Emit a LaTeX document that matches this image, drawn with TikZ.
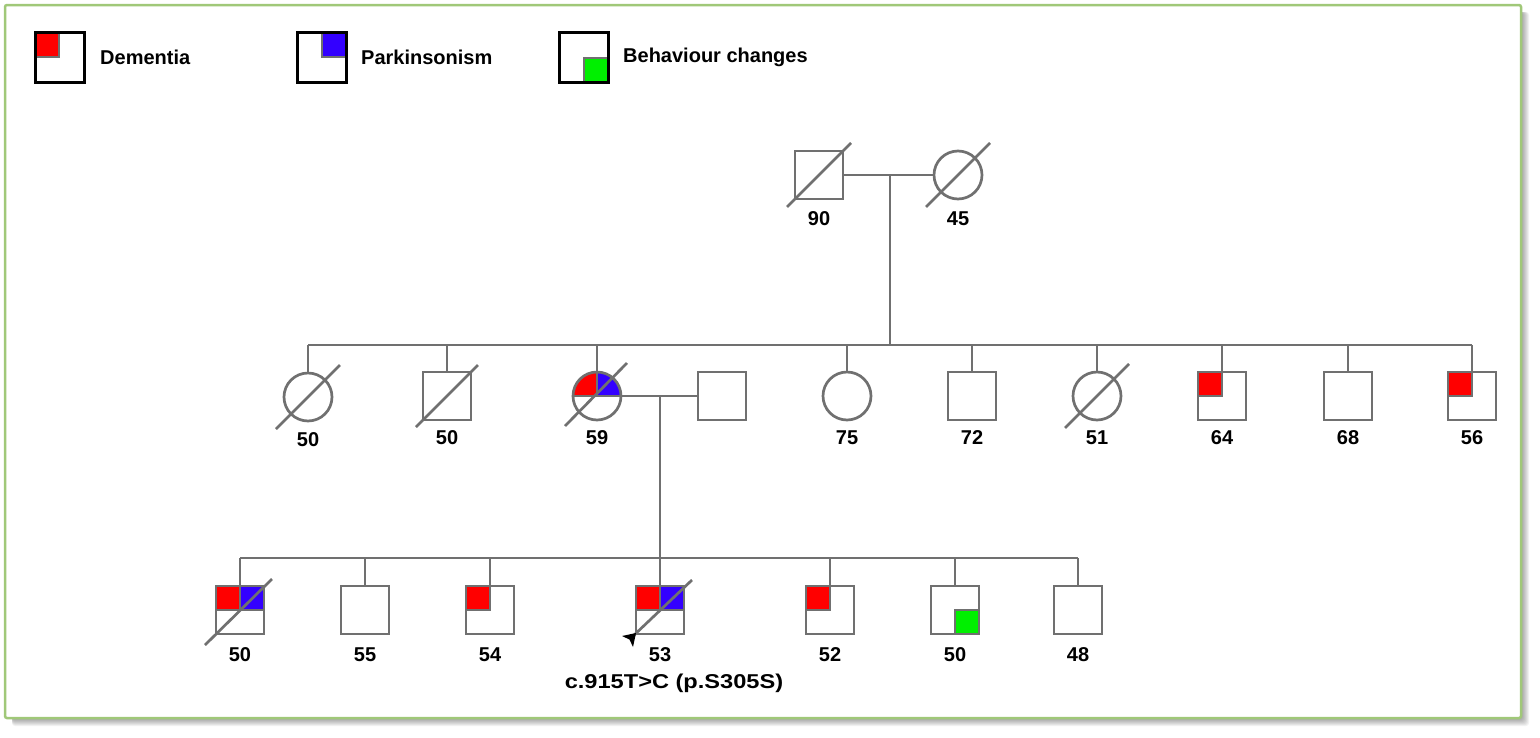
\documentclass[tikz,border=0pt]{standalone}
\usepackage{fontspec}
\setmainfont{Liberation Sans}
\definecolor{pgray}{RGB}{112,112,112}
\definecolor{pblue}{RGB}{51,0,255}
\definecolor{pgreen}{RGB}{0,240,0}
\definecolor{fgreen}{RGB}{160,200,120}
\newcommand\dslash[1]{\draw[dead] ([shift={(-32,32)}]#1.center) -- ([shift={(32,-32)}]#1.center);}
\begin{document}
\begin{tikzpicture}[x=1pt,y=-1pt,
  ln/.style={draw=pgray,line width=2.7pt},
  male/.style={ln,rectangle,minimum size=48pt,inner sep=0pt},
  female/.style={ln,circle,minimum size=48pt,inner sep=0pt},
  leg/.style={draw=black,line width=2.6pt,rectangle,minimum width=49pt,minimum height=50pt,inner sep=0pt},
  lab/.style={font=\bfseries\fontsize{20}{22}\selectfont,inner sep=0pt},
  qd/.style={draw=pgray,line width=1.5pt},
  dead/.style={draw=pgray,line width=2.7pt}]
\useasboundingbox (0,0) rectangle (1540,737);
\fill[white] (0,0) rectangle (1540,737);
% shadow and frame
\foreach \i in {1,...,7}{\fill[black,opacity=0.05,rounded corners=3pt] (12,12) rectangle (1522+\i,719+\i);}
\draw[fgreen,line width=2.5pt,fill=white,rounded corners=2pt] (5,5) rectangle (1521,718);

% legend
\path[fill=red,qd] (35,32) rectangle (59,57);
\path[fill=pblue,qd] (322,32) rectangle (347,57);
\path[fill=pgreen,qd] (584,58) rectangle (609,83);
\node[leg] (L1) at (60,57.5) {};
\node[leg] (L2) at (322,57.5) {};
\node[leg] (L3) at (584,57.5) {};
\node[lab,anchor=west] (T1) at (100,57) {Dementia};
\node[lab,anchor=west] (T2) at (361,57) {Parkinsonism};
\node[lab,anchor=west] (T3) at (623,57) {Behaviour changes};

% generation I
\node[male] (I1) at (819,175) {};
\node[female] (I2) at (958,175) {};
\node[lab] (aI1) at (819,219) {90};
\node[lab] (aI2) at (958,219) {45};
\coordinate (m1) at (890,175);
\coordinate (s1) at (890,345);

% generation II fills
\fill[red] (597,396) -- (573,396) arc[start angle=180,end angle=270,radius=24] -- cycle;
\fill[pblue] (597,396) -- (597,372) arc[start angle=270,end angle=360,radius=24] -- cycle;
\draw[qd] (573,396) -- (621,396);
\draw[qd] (597,372) -- (597,396);
\path[fill=red,qd] (1198,372) rectangle (1222,396);
\path[fill=red,qd] (1448,372) rectangle (1472,396);

% generation II
\node[female] (II1) at (308,397) {};
\node[male] (II2) at (447,396) {};
\node[female] (II3) at (597,396) {};
\node[male] (II4) at (722,396) {};
\node[female] (II5) at (847,396) {};
\node[male] (II6) at (972,396) {};
\node[female] (II7) at (1097,396) {};
\node[male] (II8) at (1222,396) {};
\node[male] (II9) at (1348,396) {};
\node[male] (II10) at (1472,396) {};
\node[lab] (aII1) at (308,440) {50};
\node[lab] (aII2) at (447,438) {50};
\node[lab] (aII3) at (597,438) {59};
\node[lab] (aII5) at (847,438) {75};
\node[lab] (aII6) at (972,438) {72};
\node[lab] (aII7) at (1097,438) {51};
\node[lab] (aII8) at (1222,438) {64};
\node[lab] (aII9) at (1348,438) {68};
\node[lab] (aII10) at (1472,438) {56};
\coordinate (m2) at (660,396);
\coordinate (s2) at (660,558);

% generation III fills
\path[fill=red,qd] (216,586) rectangle (240,610);
\path[fill=pblue,qd] (240,586) rectangle (264,610);
\path[fill=red,qd] (466,586) rectangle (490,610);
\path[fill=red,qd] (636,586) rectangle (660,610);
\path[fill=pblue,qd] (660,586) rectangle (684,610);
\path[fill=red,qd] (806,586) rectangle (830,610);
\path[fill=pgreen,qd] (955,610) rectangle (979,634);

% generation III
\node[male] (III1) at (240,610) {};
\node[male] (III2) at (365,610) {};
\node[male] (III3) at (490,610) {};
\node[male] (III4) at (660,610) {};
\node[male] (III5) at (830,610) {};
\node[male] (III6) at (955,610) {};
\node[male] (III7) at (1078,610) {};
\node[lab] (aIII1) at (240,655) {50};
\node[lab] (aIII2) at (365,655) {55};
\node[lab] (aIII3) at (490,655) {54};
\node[lab] (aIII4) at (660,655) {53};
\node[lab] (aIII5) at (830,655) {52};
\node[lab] (aIII6) at (955,655) {50};
\node[lab] (aIII7) at (1078,655) {48};
\node[lab] (var) at (674,683) {\scalebox{1.18}[1]{c.915T>C (p.S305S)}};

% connectors
\draw[ln] (I1.east) -- (I2.west);
\draw[ln] (m1) -- (s1);
\draw[ln] (II1.north |- s1) -- (II10.north |- s1);
\foreach \n in {II1,II2,II3,II5,II6,II7,II8,II9,II10}{\draw[ln] (\n.north |- s1) -- (\n.north);}
\draw[ln] (II3.east) -- (II4.west);
\draw[ln] (m2) -- (s2);
\draw[ln] (III1.north |- s2) -- (III7.north |- s2);
\foreach \n in {III1,III2,III3,III4,III5,III6,III7}{\draw[ln] (\n.north |- s2) -- (\n.north);}

% deceased
\dslash{I1}
\dslash{I2}
\dslash{II1}
\draw[dead] ([shift={(-31,31)}]II2.center) -- ([shift={(31,-31)}]II2.center);
\draw[dead] ([shift={(-32,30)}]II3.center) -- ([shift={(30,-33)}]II3.center);
\dslash{II7}
\draw[dead] ([shift={(-35,35)}]III1.center) -- ([shift={(32,-31)}]III1.center);
\draw[dead] ([shift={(-29,28)}]III4.center) -- ([shift={(32,-30)}]III4.center);
% proband arrow head
\fill[black] (636,633) -- (622,636) -- (629.5,639.5) -- (633,647) -- cycle;
\end{tikzpicture}
\end{document}
